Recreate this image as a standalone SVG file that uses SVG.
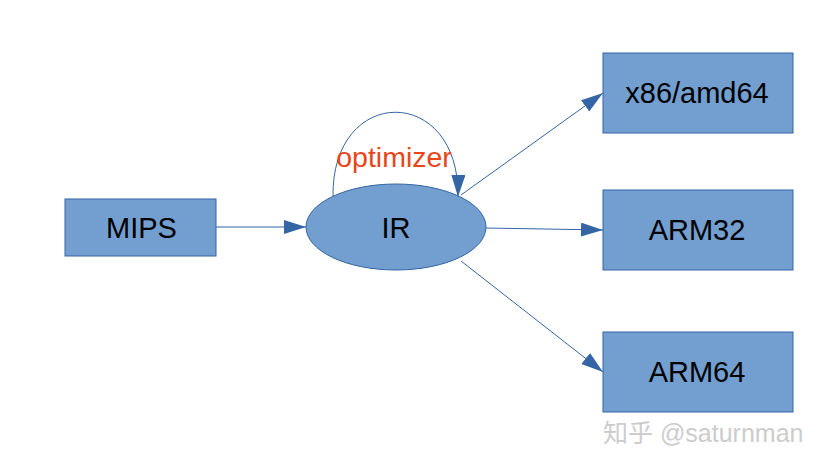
<svg xmlns="http://www.w3.org/2000/svg" width="829" height="466" viewBox="0 0 829 466">
<style>
.box{fill:#729fcf;stroke:#3465a4;stroke-width:1}
.lbl{font-family:"Liberation Sans",Arial,sans-serif;font-size:29px;fill:#000;text-anchor:middle}
.edge{fill:none;stroke:#3465a4;stroke-width:1}
</style>
<defs>
<marker id="ah" markerUnits="userSpaceOnUse" markerWidth="24" markerHeight="16" refX="22" refY="7" orient="auto">
<path d="M0,0 L22,7 L0,14 Z" fill="#3465a4"/>
</marker>
</defs>
<rect width="829" height="466" fill="#fff"/>
<g id="edges">
<line class="edge" x1="216" y1="227" x2="306" y2="227" marker-end="url(#ah)"/>
<line class="edge" x1="461" y1="195" x2="603" y2="93" marker-end="url(#ah)"/>
<line class="edge" x1="486" y1="228" x2="603" y2="230" marker-end="url(#ah)"/>
<line class="edge" x1="461" y1="261" x2="603" y2="372" marker-end="url(#ah)"/>
<path class="edge" d="M333,197 C331,84 460,84 458,197" marker-end="url(#ah)"/>
<text x="394" y="166.5" font-family="Liberation Sans,Arial,sans-serif" font-size="28.5" fill="#e8461a" text-anchor="middle">optimizer</text>
</g>
<g id="mips"><rect class="box" x="65" y="199" width="151" height="57"/><text class="lbl" x="141.5" y="237.5">MIPS</text></g>
<g id="ir"><ellipse class="box" cx="396" cy="227" rx="90" ry="43"/><text class="lbl" x="396" y="237.5">IR</text></g>
<g id="x86"><rect class="box" x="603" y="53" width="190" height="80"/><text class="lbl" x="697" y="102.5">x86/amd64</text></g>
<g id="arm32"><rect class="box" x="603" y="190" width="190" height="80"/><text class="lbl" x="697" y="240">ARM32</text></g>
<g id="arm64"><rect class="box" x="603" y="332" width="190" height="80"/><text class="lbl" x="697" y="381.5">ARM64</text></g>
<text x="603" y="442" font-family="Liberation Sans,'Noto Sans CJK SC',sans-serif" font-size="25" fill="#cccccc">知乎 @saturnman</text>
</svg>
